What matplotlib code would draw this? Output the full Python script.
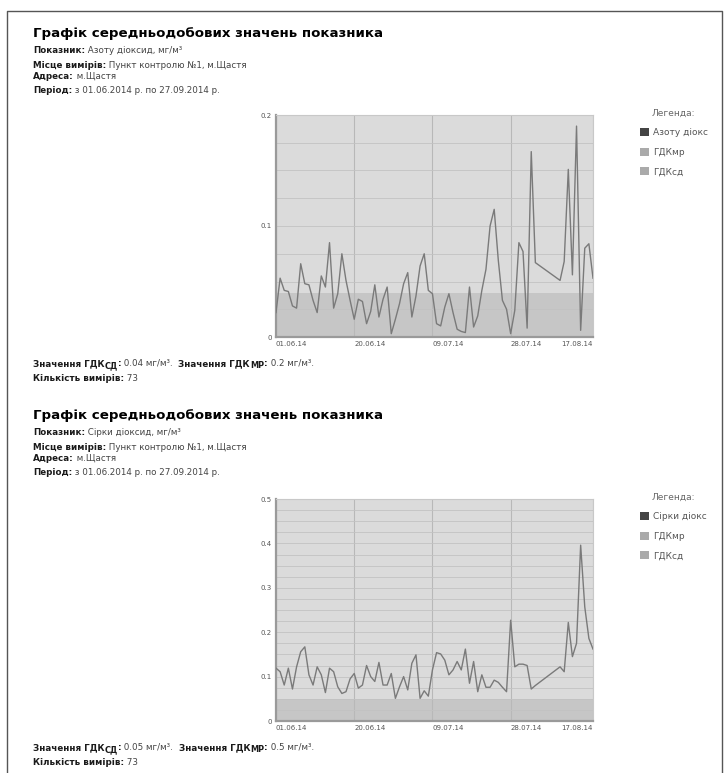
import matplotlib
matplotlib.use('Agg')
import matplotlib.pyplot as plt
import pandas as pd
from matplotlib.ticker import MultipleLocator
from matplotlib.patches import Patch

plt.rcParams['font.family'] = ['DejaVu Sans']

W, H = 728, 773

# ---------------- data ----------------
dates = pd.date_range('2014-06-01', '2014-08-03').append(pd.date_range('2014-08-09', '2014-08-17'))

no2_values = [0.022, 0.053, 0.042, 0.041, 0.028, 0.026, 0.066, 0.048, 0.047, 0.033,
              0.022, 0.055, 0.045, 0.085, 0.026, 0.039, 0.075, 0.051, 0.033, 0.016,
              0.034, 0.032, 0.012, 0.023, 0.047, 0.018, 0.034, 0.045, 0.003, 0.016,
              0.030, 0.048, 0.058, 0.018, 0.037, 0.064, 0.075, 0.042, 0.039, 0.012,
              0.010, 0.027, 0.039, 0.022, 0.007, 0.005, 0.004, 0.045, 0.009, 0.019,
              0.042, 0.061, 0.100, 0.115, 0.069, 0.033, 0.025, 0.003,
              0.024, 0.085, 0.077, 0.008, 0.167, 0.067,
              0.051, 0.068, 0.151, 0.056, 0.190, 0.006, 0.080, 0.084, 0.053]

so2_values = [0.119, 0.111, 0.081, 0.119, 0.072, 0.122, 0.156, 0.167, 0.104, 0.081,
              0.122, 0.104, 0.064, 0.119, 0.111, 0.077, 0.062, 0.066, 0.095, 0.107,
              0.074, 0.081, 0.125, 0.100, 0.089, 0.132, 0.081, 0.081, 0.107, 0.051,
              0.077, 0.100, 0.070, 0.130, 0.149, 0.051, 0.068, 0.056, 0.115, 0.154,
              0.151, 0.137, 0.104, 0.115, 0.134, 0.115, 0.162, 0.085, 0.134, 0.066,
              0.104, 0.076, 0.076, 0.092, 0.087, 0.076, 0.066, 0.227,
              0.122, 0.128, 0.128, 0.125, 0.072, 0.080,
              0.122, 0.111, 0.222, 0.145, 0.175, 0.396, 0.257, 0.186, 0.162]

x_tick_dates = ['2014-06-01', '2014-06-20', '2014-07-09', '2014-07-28', '2014-08-17']
x_tick_labels = ['01.06.14', '20.06.14', '09.07.14', '28.07.14', '17.08.14']

no2_yticks = [0, 0.1, 0.2]
no2_ylabels = ['0', '0.1', '0.2']
so2_yticks = [0, 0.1, 0.2, 0.3, 0.4, 0.5]
so2_ylabels = ['0', '0.1', '0.2', '0.3', '0.4', '0.5']

title_text = 'Графік середньодобових значень показника'
no2_name = 'Азоту діоксид, мг/м³'
so2_name = 'Сірки діоксид, мг/м³'
place_text = 'Пункт контролю №1, м.Щастя'
address_text = 'м.Щастя'
period_text = 'з 01.06.2014 р. по 27.09.2014 р.'
no2_gdk_sd, no2_gdk_mr = 0.04, 0.2
so2_gdk_sd, so2_gdk_mr = 0.05, 0.5
count_text = '73'
no2_legend = ['Азоту діокс', 'ГДКмр', 'ГДКсд']
so2_legend = ['Сірки діокс', 'ГДКмр', 'ГДКсд']

# ---------------- figure ----------------
fig = plt.figure(figsize=(W / 100, H / 100), dpi=100)
bg = fig.add_axes([0, 0, 1, 1])
bg.set_xlim(0, W)
bg.set_ylim(H, 0)
bg.axis('off')

# outer frame
bg.plot([6.5, 6.5, 721.5, 721.5], [H, 10.5, 10.5, H], color='#555555', lw=1.0)

LABEL_C = '#1a1a1a'
VALUE_C = '#444444'


def text_line(x, y, runs):
    prev = None
    for txt, bold, size, dy, color in runs:
        kw = dict(fontsize=size, fontweight='bold' if bold else 'normal',
                  color=color, va='baseline', ha='left', annotation_clip=False)
        if prev is None:
            t = bg.annotate(txt, xy=(x, y + dy), xycoords='data', **kw)
        else:
            t = bg.annotate(txt, xy=(1, y + dy), xycoords=(prev, 'data'), **kw)
        prev = t


S = 6.3


def header(y0, name):
    text_line(33, y0, [(title_text, True, 9.6, 0, '#000000')])
    text_line(33, y0 + 16.5, [('Показник:', True, S, 0, LABEL_C), (' ' + name, False, S, 0, VALUE_C)])
    text_line(33, y0 + 31.5, [('Місце вимірів:', True, S, 0, LABEL_C), (' ' + place_text, False, S, 0, VALUE_C)])
    text_line(33, y0 + 42.5, [('Адреса:', True, S, 0, LABEL_C), (' ' + address_text, False, S, 0, VALUE_C)])
    text_line(33, y0 + 56.5, [('Період:', True, S, 0, LABEL_C), (' ' + period_text, False, S, 0, VALUE_C)])


def footer(y0, sd, mr):
    text_line(33, y0, [('Значення ГДК', True, S, 0, LABEL_C), ('СД', True, 5.9, 2.2, LABEL_C),
                       (':', True, S, 0, LABEL_C), (' %g мг/м³.  ' % sd, False, S, 0, VALUE_C),
                       ('Значення ГДК', True, S, 0, LABEL_C), ('МР', True, 5.9, 2.2, LABEL_C),
                       (':', True, S, 0, LABEL_C), (' %g мг/м³.' % mr, False, S, 0, VALUE_C)])
    text_line(33, y0 + 15, [('Кількість вимірів:', True, S, 0, LABEL_C), (' ' + count_text, False, S, 0, VALUE_C)])


def chart(top, values, gdk_sd, gdk_mr, yticks, ylabels, legend_labels):
    left, right, bottom = 276, 593, top + 222
    ax = fig.add_axes([left / W, 1 - bottom / H, (right - left) / W, (bottom - top) / H])
    ax.set_facecolor('#ffffff')
    ax.axhspan(0, gdk_mr, color='#dbdbdb', lw=0)
    ax.axhspan(0, gdk_sd, color='#c6c6c6', lw=0)
    ax.plot(dates, values, color='#7a7a7a', lw=1.0, zorder=3)
    ax.set_xlim(dates[0], dates[-1])
    ax.set_ylim(0, gdk_mr)
    ax.set_xticks(pd.to_datetime(x_tick_dates))
    ax.set_xticklabels(x_tick_labels)
    labs = ax.get_xticklabels()
    for i, lab in enumerate(labs):
        lab.set_ha('right' if i == len(labs) - 1 else 'left')
    ax.set_yticks(yticks)
    ax.set_yticklabels(ylabels)
    ax.yaxis.set_minor_locator(MultipleLocator(0.025))
    ax.grid(axis='y', which='both', color='#c2c2c2', lw=0.6, zorder=2)
    ax.grid(axis='x', which='major', color='#b8b8b8', lw=0.8, zorder=2)
    ax.tick_params(which='both', length=0, labelsize=5, labelcolor='#555555', pad=3)
    for side in ('left', 'bottom'):
        ax.spines[side].set_color('#9a9a9a')
        ax.spines[side].set_linewidth(1.6)
    for side in ('top', 'right'):
        ax.spines[side].set_color('#c8c8c8')
        ax.spines[side].set_linewidth(0.8)

    handles = [Patch(facecolor='#444444', edgecolor='none'),
               Patch(facecolor='#aaaaaa', edgecolor='none'),
               Patch(facecolor='#aaaaaa', edgecolor='none')]
    leg = fig.legend(handles, legend_labels, title='Легенда:', loc='upper left',
                     bbox_to_anchor=(640 / W, 1 - (top - 6) / H), frameon=False,
                     fontsize=6.5, title_fontsize=6.5, handlelength=0.95, handleheight=0.95,
                     handletextpad=0.45, labelspacing=1.15, borderpad=0, borderaxespad=0)
    leg.get_title().set_color('#666666')
    for t in leg.get_texts():
        t.set_color('#555555')
    return ax


header(36.5, no2_name)
chart(115, no2_values, no2_gdk_sd, no2_gdk_mr, no2_yticks, no2_ylabels, no2_legend)
footer(366, no2_gdk_sd, no2_gdk_mr)

header(418.5, so2_name)
chart(499, so2_values, so2_gdk_sd, so2_gdk_mr, so2_yticks, so2_ylabels, so2_legend)
footer(750, so2_gdk_sd, so2_gdk_mr)

fig.savefig('out.png', dpi=100)
